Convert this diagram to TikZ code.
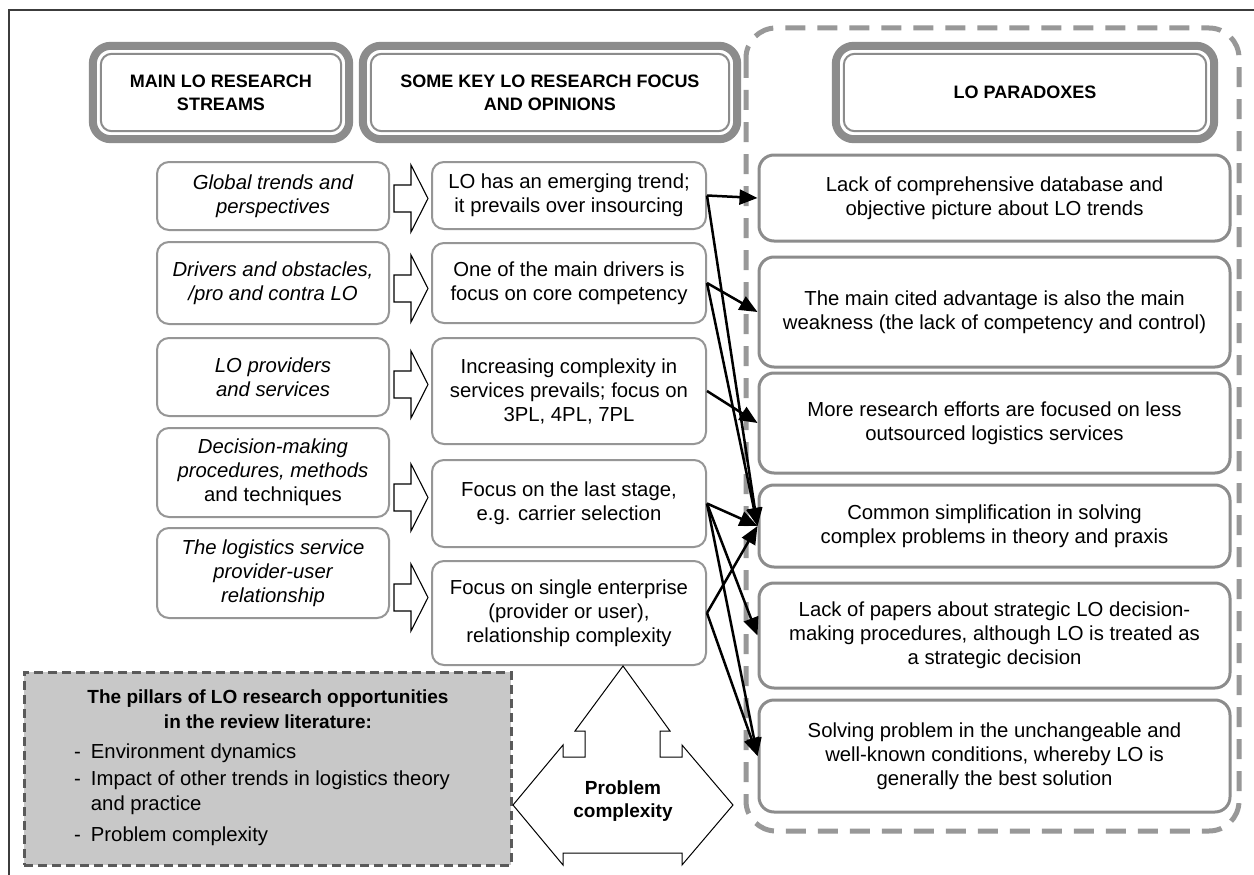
\documentclass[tikz,border=0pt]{standalone}
\usepackage{fontspec}
\setmainfont{Liberation Sans}
\usetikzlibrary{arrows.meta}
\definecolor{boxgray}{RGB}{150,150,150}
\definecolor{rboxgray}{RGB}{140,140,140}
\definecolor{bandgray}{RGB}{140,140,140}
\definecolor{dashgray}{RGB}{152,152,152}
\definecolor{pillfill}{RGB}{200,200,200}
\definecolor{pillborder}{RGB}{90,90,90}
\definecolor{framegray}{RGB}{60,60,60}
\tikzset{
  leftbox/.style={draw=boxgray, line width=2, rounded corners=12, fill=white,
    minimum width=232, inner sep=0, align=center,
    font=\fontsize{20.3}{24}\selectfont\itshape},
  midbox/.style={draw=boxgray, line width=2, rounded corners=12, fill=white,
    minimum width=274, inner sep=0, align=center,
    font=\fontsize{20.3}{24}\selectfont},
  rightbox/.style={draw=rboxgray, line width=3, rounded corners=15, fill=white,
    minimum width=471, inner sep=0, align=center,
    font=\fontsize{20.3}{24}\selectfont},
  headbox/.style={draw=none, minimum height=101, inner sep=0, align=center,
    font=\fontsize{18}{23}\selectfont\bfseries},
  band/.style={draw=bandgray, line width=8, rounded corners=18},
  bandline/.style={draw=bandgray, line width=2, rounded corners=11},
  conn/.style={draw=black, line width=2.5, -{Triangle[length=18pt,width=15pt]}},
  blockarr/.pic={\draw[black, line width=1.1, fill=white, line join=miter]
    (-17,-13.5) -- (0,-13.5) -- (0,-33.5) -- (17,0) -- (0,33.5) -- (0,13.5) -- (-17,13.5) -- cycle;}
}
\begin{document}
\begin{tikzpicture}[x=1pt,y=-1pt]
\useasboundingbox (0,0) rectangle (1254,875);
\fill[white] (0,0) rectangle (1254,875);
% frame
\draw[framegray, line width=1.5] (1254,10) -- (9,10) -- (9,875);
% dashed region
\draw[dashgray, line width=5, dash pattern=on 20 off 12, rounded corners=30] (746,28) rectangle (1239,831);
% headers
\node[headbox, minimum width=264] (h1) at (221,92.5) {MAIN LO RESEARCH\\STREAMS};
\node[headbox, minimum width=382] (h2) at (550,92.5) {SOME KEY LO RESEARCH FOCUS\\AND OPINIONS};
\node[headbox, minimum width=386] (h3) at (1025,92.5) {LO PARADOXES};
\foreach \h in {h1,h2,h3}{
  \draw[band] ([shift={(4,4)}]\h.north west) rectangle ([shift={(-4,-4)}]\h.south east);
  \draw[bandline] ([shift={(12,12)}]\h.north west) rectangle ([shift={(-12,-12)}]\h.south east);
}
% left column
\node[leftbox, minimum height=68] (l1) at (273,196) {Global trends and\\perspectives};
\node[leftbox, minimum height=82] (l2) at (273,283) {Drivers and obstacles,\\/pro and contra LO};
\node[leftbox, minimum height=78] (l3) at (273,377) {LO providers\\and services};
\node[leftbox, minimum height=89] (l4) at (273,472.5) {Decision-making\\procedures, methods\\\upshape and techniques};
\node[leftbox, minimum height=90] (l5) at (273,573) {The logistics service\\provider-user\\relationship};
% block arrows
\pic at (411,198.5) {blockarr};
\pic at (411,288.5) {blockarr};
\pic at (411,384.5) {blockarr};
\pic at (411,497.5) {blockarr};
\pic at (411,597.5) {blockarr};
% middle column
\node[midbox, minimum height=67] (m1) at (569,195.5) {LO has an emerging trend;\\it prevails over insourcing};
\node[midbox, minimum height=80] (m2) at (569,283) {One of the main drivers is\\focus on core competency};
\node[midbox, minimum height=106] (m3) at (569,391) {Increasing complexity in\\services prevails; focus on\\3PL, 4PL, 7PL};
\node[midbox, minimum height=87] (m4) at (569,503.5) {Focus on the last stage,\\e.g. carrier selection};
\node[midbox, minimum height=104] (m5) at (569,613) {Focus on single enterprise\\(provider or user),\\relationship complexity};
% right column
\node[rightbox, minimum height=86] (r1) at (994.5,198) {Lack of comprehensive database and\\objective picture about LO trends};
\node[rightbox, minimum height=110] (r2) at (994.5,312) {The main cited advantage is also the main\\weakness (the lack of competency and control)};
\node[rightbox, minimum height=100] (r3) at (994.5,423) {More research efforts are focused on less\\outsourced logistics services};
\node[rightbox, minimum height=82] (r4) at (994.5,526) {Common simplification in solving\\complex problems in theory and praxis};
\node[rightbox, minimum height=105] (r5) at (994.5,635.5) {Lack of papers about strategic LO decision-\\making procedures, although LO is treated as\\a strategic decision};
\node[rightbox, minimum height=112] (r6) at (994.5,756) {Solving problem in the unchangeable and\\well-known conditions, whereby LO is\\generally the best solution};
% connectors
\draw[conn] (m1.east) -- (r1.west);
\draw[conn] (m1.east) -- (r4.west);
\draw[conn] (m2.east) -- (r2.west);
\draw[conn] (m2.east) -- (r4.west);
\draw[conn] (m3.east) -- (r3.west);
\draw[conn] (m4.east) -- (r4.west);
\draw[conn] (m4.east) -- (r5.west);
\draw[conn] (m4.east) -- (r6.west);
\draw[conn] (m5.east) -- (r4.west);
\draw[conn] (m5.east) -- (r6.west);
% pillars box
\node[draw=pillborder, fill=pillfill, line width=3, dash pattern=on 9 off 5,
  minimum width=487, minimum height=193, inner sep=0] (pill) at (267.5,768.5) {};
\node[font=\fontsize{19}{25}\selectfont\bfseries, align=center, inner sep=0] (ptitle) at (268,709.5)
  {The pillars of LO research opportunities\\in the review literature:};
\node[anchor=north west, inner sep=0, font=\fontsize{20.3}{25}\selectfont] (plist) at (74,741)
  {\begin{tabular}{@{}l@{\hspace{10pt}}l@{}}
   - & Environment dynamics\\[2pt]
   - & Impact of other trends in logistics theory\\
     & and practice\\[6pt]
   - & Problem complexity
   \end{tabular}};
% problem complexity shape
\draw[black, line width=1, fill=white, line join=miter]
  (623,666) -- (670,731) -- (660,731) -- (660,757) -- (682,757) -- (682,745)
  -- (733,805) -- (682,865) -- (682,853) -- (563,853) -- (563,865)
  -- (513,805) -- (563,745) -- (563,757) -- (585,757) -- (585,731) -- (575,731) -- cycle;
\node[font=\fontsize{19}{23}\selectfont\bfseries, align=center, inner sep=0] (pc) at (623,801) {Problem\\complexity};
\end{tikzpicture}
\end{document}
